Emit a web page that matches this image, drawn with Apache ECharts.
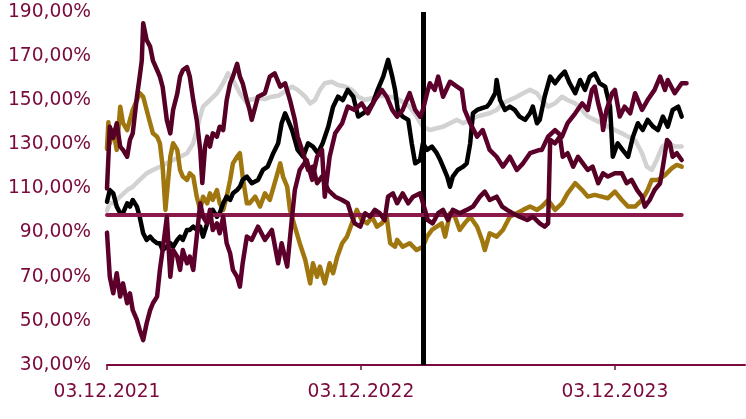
<!DOCTYPE html>
<html>
<head>
<meta charset="utf-8">
<script src="https://cdn.jsdelivr.net/npm/echarts@6/dist/echarts.min.js"></script>
<style>
html,body{margin:0;padding:0;background:#fff;}
#chart{width:746px;height:419px;}
</style>
</head>
<body>
<div id="chart"></div>
<script>
// x values: days since 03.12.2021
const xTickDays = [0, 365, 730];
const xTickLabels = ['03.12.2021', '03.12.2022', '03.12.2023'];
const markerDay = 455;
const referenceLevel = 98;
const referenceDays = [0, 826];

const grayData = [[0,100],[4,103.3],[9,103.3],[19,106.3],[29,109.3],[37,110.8],[47,113.9],[57,116.9],[66,118.4],[76,119.9],[86,121.4],[95,122.9],[105,124.4],[115,126.0],[124,130.5],[134,142.6],[138,147.1],[148,150.1],[158,153.2],[167,157.7],[174,162.2],[181,159.2],[191,153.2],[201,148.6],[205,150.1],[217,151.0],[227,150.5],[237,151.6],[246,152.0],[256,154.0],[266,156.2],[274,154.7],[285,151.6],[292,148.6],[299,150.1],[306,154.7],[313,157.7],[323,158.4],[332,156.9],[342,156.2],[352,154.7],[361,151.6],[371,150.1],[381,151.0],[392,152.0],[407,151.6],[421,150.1],[435,147.1],[445,142.6],[454,138.0],[464,136.5],[474,137.3],[483,138.0],[493,139.6],[503,141.1],[512,139.6],[522,141.1],[532,142.6],[540,143.3],[550,144.1],[560,145.6],[569,148.6],[579,150.1],[589,151.6],[598,153.2],[608,154.7],[618,153.2],[625,150.1],[634,147.1],[644,148.6],[654,151.6],[662,150.1],[673,148.6],[683,145.6],[691,142.6],[701,141.1],[711,139.6],[720,138.0],[730,136.5],[740,135.0],[749,133.5],[759,132.0],[769,126.0],[776,119.9],[783,118.4],[790,122.9],[798,129.0],[806,130.5],[816,129.0],[826,129.0]];

const goldData = [[0,128],[2,140],[4,130.5],[9,136.5],[14,127.5],[19,147.1],[23,139.6],[29,136.5],[33,141.1],[37,145.6],[43,150.1],[47,153.2],[52,151.6],[57,145.6],[62,139.6],[66,135.0],[72,133.5],[76,130.5],[80,119.9],[84,100.3],[91,124.4],[95,130.5],[101,127.5],[105,118.4],[109,115.4],[115,113.9],[119,116.9],[124,115.4],[129,106.3],[134,100.3],[138,106.3],[144,103.3],[148,107.8],[152,104.8],[158,109.3],[162,103.3],[167,100.3],[172,106.3],[177,113.9],[181,121.4],[187,124.4],[191,126.0],[195,115.4],[201,103.3],[205,103.3],[213,106.3],[220,101.8],[227,107.8],[234,104.8],[241,112.4],[249,121.4],[253,115.4],[259,110.8],[263,100.3],[270,92.7],[277,85.2],[285,77.6],[292,67.0],[296,76.1],[302,70.0],[306,74.6],[313,67.0],[320,76.1],[325,71.6],[331,79.1],[338,85.2],[345,88.2],[352,94.2],[359,100.3],[366,95.7],[374,94.2],[381,97.2],[388,92.7],[395,94.2],[402,97.2],[407,85.2],[414,83.6],[417,86.7],[425,83.6],[435,85.2],[445,82.1],[454,83.6],[460,88.2],[467,91.2],[474,92.7],[481,94.2],[486,88.2],[493,98.8],[500,97.2],[507,91.2],[514,94.2],[522,97.2],[532,92.7],[539,86.7],[543,82.1],[550,89.7],[560,88.2],[569,91.2],[579,97.2],[589,98.8],[598,100.3],[608,101.8],[618,100.3],[625,101.8],[634,104.8],[644,100.3],[654,103.3],[662,107.8],[673,112.4],[683,109.3],[691,106.3],[701,107.1],[711,106.3],[720,105.6],[730,108.6],[740,104.8],[749,101.8],[759,101.8],[769,104.8],[777,109.3],[783,113.9],[792,113.9],[802,116.1],[812,119.2],[819,120.7],[826,119.9]];

const blackData = [[0,104],[4,109.3],[9,107.8],[14,101.8],[19,98.8],[23,98.8],[29,103.3],[33,101.8],[37,104.8],[43,101.8],[47,97.2],[52,89.7],[57,86.7],[62,88.2],[66,86.7],[72,85.2],[76,85.2],[80,82.1],[86,83.6],[91,85.2],[95,83.6],[101,86.7],[105,88.2],[109,86.7],[115,91.2],[119,91.2],[124,92.7],[129,91.2],[134,92.7],[138,88.2],[144,94.2],[148,97.2],[152,100.3],[158,97.2],[162,98.8],[167,103.3],[172,106.3],[177,104.8],[181,107.8],[187,109.3],[191,110.8],[195,113.9],[201,115.4],[208,112.4],[217,113.9],[224,118.4],[231,119.9],[239,126.0],[246,130.5],[251,139.6],[256,144.1],[260,141.1],[266,136.5],[270,132.0],[274,127.5],[282,124.4],[289,130.5],[296,129.0],[303,126.0],[310,130.5],[318,138.0],[325,147.1],[332,151.6],[339,150.1],[346,154.7],[354,151.6],[361,142.6],[368,144.1],[375,145.6],[382,148.6],[389,154.7],[397,160.7],[404,168.3],[410,160.7],[414,154.7],[418,145.6],[425,142.6],[433,141.1],[438,130.5],[443,121.4],[450,122.9],[454,130.5],[460,127.5],[467,129.0],[474,126.0],[479,122.9],[483,119.9],[489,115.4],[493,110.8],[497,115.4],[504,118.4],[512,119.9],[517,121.4],[522,130.5],[526,144.1],[532,145.6],[539,146.4],[546,147.1],[550,148.6],[558,153.2],[560,159.2],[565,150.1],[572,145.6],[579,147.1],[586,145.6],[593,142.6],[601,141.1],[608,144.1],[612,147.1],[618,139.6],[622,141.1],[629,151.6],[637,160.7],[644,157.7],[651,160.7],[658,163.0],[665,157.7],[673,153.2],[680,159.2],[687,154.7],[694,160.7],[701,162.2],[708,157.7],[716,156.2],[723,147.1],[727,124.4],[734,130.5],[741,127.5],[749,124.4],[756,133.5],[763,139.6],[770,136.5],[777,141.1],[785,138.0],[792,136.5],[799,142.6],[806,138.0],[813,145.6],[821,147.1],[826,142.6]];

const maroonAData = [[0,110],[4,138],[9,133],[14,139.6],[19,129],[23,127.5],[29,124.4],[33,132.0],[37,135],[43,151.6],[47,160.7],[50,168],[52,184.9],[57,177.3],[62,174.3],[66,168],[72,163.7],[76,160.7],[80,156],[86,141],[91,135],[95,145.6],[101,153],[105,160.7],[109,163.7],[115,165],[119,160.7],[124,150],[129,141],[134,127.5],[137,112.5],[141,129],[144,133.5],[148,129],[152,135],[158,133.5],[162,138],[167,136.5],[172,150],[177,157.7],[181,160.7],[187,166.5],[191,160.7],[195,157.7],[201,150],[205,145.6],[208,141.1],[217,151.6],[227,153.2],[234,160.7],[241,162.2],[249,156.2],[256,157.7],[263,150.1],[270,141.1],[274,133.5],[282,126.0],[289,118.4],[296,119.9],[302,112.4],[309,115.4],[318,109.3],[328,106.3],[338,104.8],[346,103.3],[352,97.2],[356,94.2],[364,92.7],[371,98.8],[378,97.2],[385,100.3],[392,98.8],[399,95.7],[404,106.3],[411,107.8],[417,103.3],[425,107.8],[433,103.3],[440,106.3],[450,107.8],[457,100.3],[461,95.7],[468,94.2],[476,98.8],[483,100.3],[490,95.7],[497,100.3],[507,98.8],[517,100.3],[526,101.8],[536,106.3],[543,108.6],[550,104.8],[560,106.3],[568,101.8],[575,100.3],[583,98.8],[593,97.2],[604,95.7],[612,97.2],[622,94.2],[629,92.7],[634,94.2],[637,132.0],[644,130.5],[651,133.5],[655,124.4],[662,126.0],[670,119.9],[677,124.4],[684,121.4],[691,118.4],[698,119.9],[706,112.4],[713,116.9],[720,115.4],[730,116.9],[740,116.9],[747,112.4],[754,113.9],[762,109.3],[769,106.3],[773,101.8],[780,104.8],[787,109.3],[795,112.4],[799,119.9],[805,132.0],[809,130.5],[813,124.4],[819,126.0],[826,122.9]];

const maroonBData = [[0,90],[4,70.0],[9,62.5],[14,71.6],[19,61.0],[23,67.0],[29,58.0],[33,62.5],[37,54.9],[43,50.4],[47,45.9],[52,41.3],[57,48.9],[62,54.9],[66,58.0],[72,61.0],[76,73.1],[80,82.1],[86,97.2],[91,70.0],[95,82.1],[101,79.1],[105,73.1],[109,82.1],[115,76.1],[119,79.1],[124,73.1],[129,88.2],[134,103.3],[138,97.2],[144,94.2],[148,100.3],[152,91.2],[158,94.2],[162,89.7],[167,97.2],[172,85.2],[177,80.6],[181,73.1],[187,70.0],[191,65.5],[195,76.1],[201,88.2],[208,86.7],[217,92.7],[227,86.7],[237,91.2],[246,76.1],[251,85.2],[259,74.6],[266,97.2],[270,109.3],[277,118.4],[287,122.9],[295,113.9],[302,124.4],[309,127.5],[313,106.3],[320,124.4],[328,135.0],[338,139.6],[346,147.1],[356,145.6],[366,148.6],[375,144.1],[385,150.1],[395,154.7],[402,151.6],[410,145.6],[417,142.6],[425,145.6],[435,153.2],[443,145.6],[450,142.6],[454,145.6],[460,153.2],[464,157.7],[471,154.7],[476,160.7],[483,151.6],[493,158.4],[503,156.2],[510,154.7],[514,145.6],[522,139.6],[532,133.5],[540,136.5],[550,127.5],[560,124.4],[569,119.9],[579,124.4],[589,118.4],[598,121.4],[608,126.0],[622,127.5],[625,127.5],[634,133.5],[644,136.5],[654,133.5],[662,139.6],[673,144.1],[683,148.6],[691,145.6],[697,154.7],[701,156.2],[706,148.6],[711,142.6],[713,136.5],[718,145.6],[726,153.2],[730,154.7],[737,142.6],[744,147.1],[752,144.1],[759,153.2],[769,145.6],[777,150.1],[787,154.7],[795,160.7],[802,154.7],[806,159.2],[816,153.2],[826,157.7],[833,157.7]];

const referenceData = referenceDays.map(d => [d, referenceLevel]);

const textColor = '#7a0a3c';
const fontFamily = 'DejaVu Sans';

function lineSeries(name, data, color, width, z) {
  return {
    name, type: 'line', data, showSymbol: false, symbol: 'none', z,
    lineStyle: { color, width, cap: 'round', join: 'round' },
    animation: false
  };
}

const chart = echarts.init(document.getElementById('chart'), null, { renderer: 'canvas' });
const series = [
  lineSeries('Grau', grayData, '#d2d2d2', 4.5, 2),
  lineSeries('Gold', goldData, '#a0760f', 4.5, 3),
  lineSeries('Schwarz', blackData, '#000000', 4.5, 4),
  lineSeries('Referenz', referenceData, '#8b1a4b', 4, 5),
  lineSeries('Bordeaux B', maroonBData, '#5c002b', 4.5, 6),
  lineSeries('Bordeaux A', maroonAData, '#560026', 4.5, 7)
];
series.push({
  type: 'line', data: [], z: 10, animation: false,
  markLine: {
    silent: true, symbol: 'none', animation: false,
    label: { show: false },
    lineStyle: { color: '#000000', width: 5, type: 'solid' },
    data: [{ xAxis: markerDay }]
  }
});

chart.setOption({
  animation: false,
  backgroundColor: '#ffffff',
  grid: { left: 107, right: 1, top: 12, bottom: 54, containLabel: false },
  xAxis: {
    type: 'value', min: 0, max: 917, interval: 365,
    axisLine: { show: true, lineStyle: { color: textColor, width: 2 } },
    axisTick: { show: true, customValues: xTickDays, length: 5, lineStyle: { color: textColor, width: 1.5 } },
    axisLabel: {
      customValues: xTickDays,
      color: textColor, fontFamily, fontSize: 18.67, margin: 18,
      formatter: v => xTickLabels[xTickDays.indexOf(v)] || ''
    },
    splitLine: { show: false }
  },
  yAxis: {
    type: 'value', min: 30, max: 190, interval: 20,
    axisLine: { show: false }, axisTick: { show: false }, splitLine: { show: false },
    axisLabel: {
      color: textColor, fontFamily, fontSize: 18.67, margin: 16,
      formatter: v => v.toFixed(2).replace('.', ',') + '%'
    }
  },
  series
});
</script>
</body>
</html>
